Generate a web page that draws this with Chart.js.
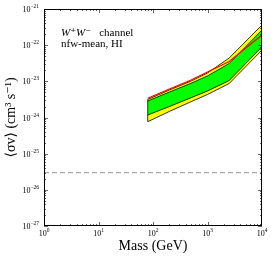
<!DOCTYPE html>
<html>
<head>
<meta charset="UTF-8">
<title>WW channel limits</title>
<script src="https://cdn.jsdelivr.net/npm/chart.js"></script>
<style>
  body { margin: 0; background: #fff; }
  canvas { display: block; }
</style>
</head>
<body>
<canvas id="chart" width="274" height="257"></canvas>
<script>
// dark matter mass (GeV) and <sigma v> limits (cm^3 s^-1)
const masses = [80, 200, 500, 1000, 2500, 10000];
const band95Upper = [3.15e-24, 5.77e-24, 1.02e-23, 1.70e-23, 4.42e-23, 3.61e-22];
const band95Lower = [7.66e-25, 1.47e-24, 2.74e-24, 4.33e-24, 8.71e-24, 7.34e-23];
const band68Upper = [2.86e-24, 5.07e-24, 8.83e-24, 1.41e-23, 3.11e-23, 2.62e-22];
const band68Lower = [1.17e-24, 2.01e-24, 3.53e-24, 5.41e-24, 1.05e-23, 9.08e-23];
const observed = [3.40e-24, 6.14e-24, 1.09e-23, 1.81e-23, 3.53e-23, 1.91e-22];
const thermalRelic = 3e-26;
const xTicks = [1, 10, 100, 1000, 10000];
const yTicks = [1e-27, 1e-26, 1e-25, 1e-24, 1e-23, 1e-22, 1e-21];

const SERIF = '"Liberation Serif", "DejaVu Serif", serif';

function pts(ys) {
    return masses.map((m, i) => ({x: m, y: ys[i]}));
}

// draws "10" with a raised exponent; align is 'right' or 'center'
function powLabel(ctx, v, x, y, align) {
    const base = '10', exp = String(Math.round(Math.log10(v))).replace('-', '\u2212');
    ctx.font = '8px ' + SERIF;
    const bw = ctx.measureText(base).width;
    ctx.font = '5.5px ' + SERIF;
    const ew = ctx.measureText(exp).width;
    const w = bw + ew;
    const x0 = align === 'right' ? x - w : x - w / 2;
    ctx.font = '8px ' + SERIF;
    ctx.fillText(base, x0, y);
    ctx.font = '5.5px ' + SERIF;
    ctx.fillText(exp, x0 + bw, y - 4);
}

// frame + inward major/minor ticks on all four sides, tick labels, annotation text
const frame = {
    id: 'frame',
    afterDraw(chart) {
        const ctx = chart.ctx;
        const a = chart.chartArea;
        const xs = chart.scales.x, ys = chart.scales.y;
        ctx.save();
        ctx.strokeStyle = '#000';
        ctx.lineWidth = 1;
        ctx.strokeRect(a.left + 0.5, a.top + 0.5, a.right - a.left - 1, a.bottom - a.top - 1);
        ctx.lineWidth = 0.6;
        ctx.beginPath();
        for (let d = 0; d < 4; d++) {
            for (let k = 1; k <= 9; k++) {
                const v = Math.pow(10, d) * k;
                const px = Math.round(xs.getPixelForValue(v)) + 0.5;
                const len = k === 1 ? 4 : 2;
                ctx.moveTo(px, a.bottom); ctx.lineTo(px, a.bottom - len);
                ctx.moveTo(px, a.top); ctx.lineTo(px, a.top + len);
            }
        }
        for (let d = -27; d < -21; d++) {
            for (let k = 1; k <= 9; k++) {
                const v = Math.pow(10, d) * k;
                const py = Math.round(ys.getPixelForValue(v)) + 0.5;
                const len = k === 1 ? 4 : 2;
                ctx.moveTo(a.left, py); ctx.lineTo(a.left + len, py);
                ctx.moveTo(a.right, py); ctx.lineTo(a.right - len, py);
            }
        }
        ctx.stroke();

        ctx.fillStyle = '#000';
        ctx.textBaseline = 'alphabetic';
        ctx.textAlign = 'left';
        xTicks.forEach(v => powLabel(ctx, v, xs.getPixelForValue(v), a.bottom + 10, 'center'));
        yTicks.forEach(v => powLabel(ctx, v, a.left - 5, ys.getPixelForValue(v) + 3, 'right'));

        ctx.font = 'italic 11px ' + SERIF;
        let x = 61;
        ctx.fillText('W\u207A', x, 36);
        x += ctx.measureText('W\u207A').width;
        ctx.fillText('W\u207B', x, 36);
        x += ctx.measureText('W\u207B').width;
        ctx.font = '11px ' + SERIF;
        ctx.fillText('   channel', x, 36);
        ctx.fillText('nfw-mean, HI', 61, 47);
        ctx.restore();
    }
};

new Chart(document.getElementById('chart'), {
    type: 'line',
    data: {
        datasets: [
            { data: pts(band95Upper), fill: '+1', backgroundColor: '#ffff00',
              borderColor: '#000', borderWidth: 0.8, order: 10 },
            { data: pts(band95Lower), fill: false,
              borderColor: '#000', borderWidth: 0.8, order: 9 },
            { data: pts(band68Upper), fill: '+1', backgroundColor: '#00ff00',
              borderColor: '#000', borderWidth: 0.8, order: 8 },
            { data: pts(band68Lower), fill: false,
              borderColor: '#000', borderWidth: 0.8, order: 7 },
            { data: [{x: masses[0], y: band95Lower[0]}, {x: masses[0], y: band95Upper[0]}],
              fill: false, borderColor: '#000', borderWidth: 0.8, order: 6 },
            { data: pts(observed), fill: false, borderColor: '#ff0000', borderWidth: 1.2, order: 5 },
            { data: [{x: xTicks[0], y: thermalRelic}, {x: xTicks[xTicks.length - 1], y: thermalRelic}],
              fill: false, borderColor: '#aaaaaa', borderWidth: 1.2, borderDash: [5, 3], order: 4 }
        ]
    },
    options: {
        responsive: false,
        animation: false,
        events: [],
        layout: { padding: { left: 0, top: 9, right: 12, bottom: 0 } },
        elements: { point: { radius: 0 }, line: { tension: 0 } },
        plugins: { legend: { display: false }, tooltip: { enabled: false } },
        scales: {
            x: {
                type: 'logarithmic',
                min: 1, max: 10000,
                grid: { display: false, drawTicks: false },
                border: { display: false },
                afterBuildTicks: s => { s.ticks = xTicks.map(v => ({value: v})); },
                afterFit: s => { s.height = 31; },
                ticks: { display: false },
                title: {
                    display: true, text: 'Mass (GeV)', color: '#000',
                    font: { family: SERIF, size: 14 }, padding: { top: 0, bottom: 2 }
                }
            },
            y: {
                type: 'logarithmic',
                min: 1e-27, max: 1e-21,
                grid: { display: false, drawTicks: false },
                border: { display: false },
                afterBuildTicks: s => { s.ticks = yTicks.map(v => ({value: v})); },
                afterFit: s => { s.width = 44; },
                ticks: { display: false },
                title: {
                    display: true, text: '\u27E8\u03C3v\u27E9 (cm\u00B3 s\u207B\u00B9)', color: '#000',
                    font: { family: SERIF, size: 14 }, padding: { top: 3, bottom: 0 }
                }
            }
        }
    },
    plugins: [frame]
});
</script>
</body>
</html>
